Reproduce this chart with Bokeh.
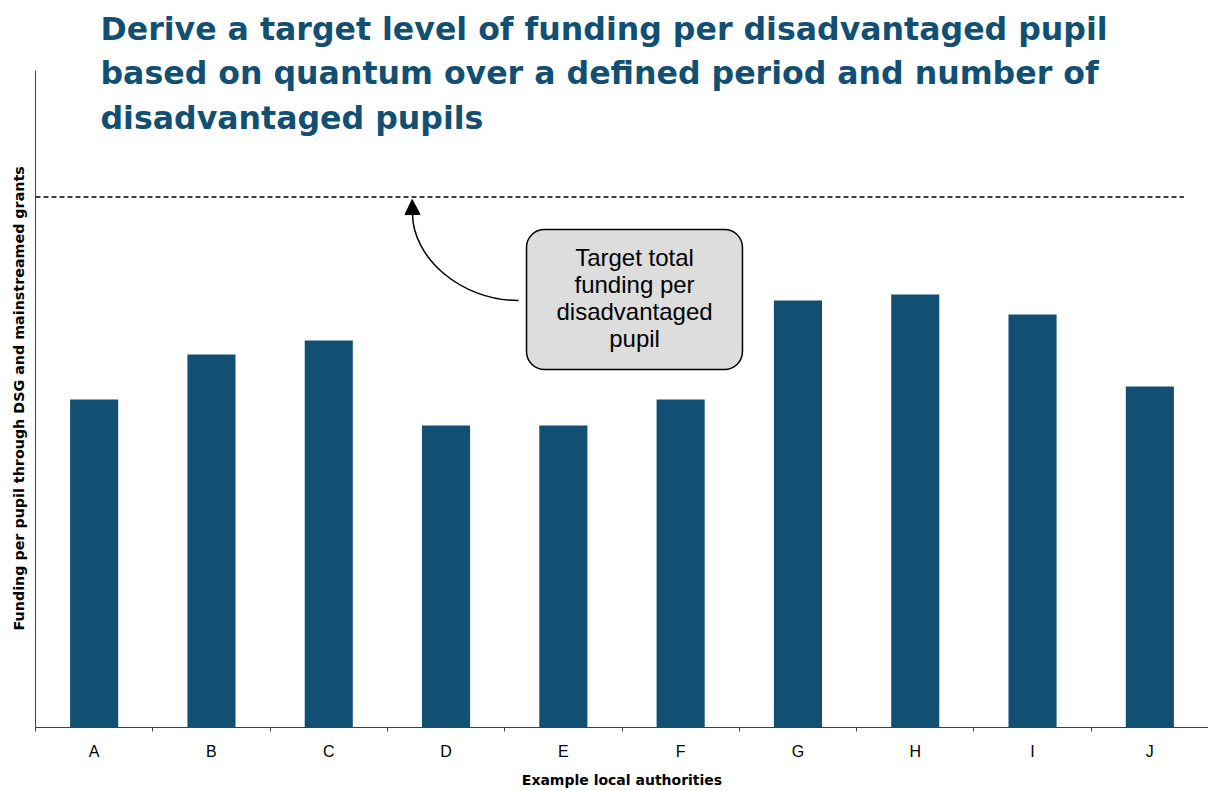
from bokeh.plotting import figure
from bokeh.models import (Range1d, FixedTicker, BoxAnnotation, Arrow, NormalHead, Title)
from bokeh.core.properties import value
from bokeh.embed import file_html
from bokeh.resources import INLINE

# ---- data ----
authorities = ["A", "B", "C", "D", "E", "F", "G", "H", "I", "J"]
funding_per_pupil = [328, 373, 387, 302, 302, 328, 427, 433, 413, 341]
target_funding = 530.5
title_lines = [
    "Derive a target level of funding per disadvantaged pupil",
    "based on quantum over a defined period and number of",
    "disadvantaged pupils",
]
callout_lines = ["Target total", "funding per", "disadvantaged", "pupil"]
x_title = "Example local authorities"
y_title = "Funding per pupil through DSG and mainstreamed grants"

BAR = "#114F73"
AXIS = "#404040"

n = len(authorities)
xs = [i + 0.5 for i in range(n)]

p = figure(width=1208, height=791, output_backend="svg", toolbar_location=None,
           x_range=Range1d(0, n), y_range=Range1d(0, 727),
           min_border_left=35, min_border_right=0, min_border_top=0,
           min_border_bottom=64)
p.outline_line_color = None
p.xgrid.visible = False
p.ygrid.visible = False
p.background_fill_color = "white"
p.border_fill_color = "white"

# bars
p.vbar(x=xs, top=funding_per_pupil, bottom=0, width=0.41,
       fill_color=BAR, line_color=None)

# target dashed line
p.segment(x0=[0], y0=[target_funding], x1=[9.79], y1=[target_funding],
          line_color="black", line_width=1.5, line_dash="5 3")

# x axis
xa = p.xaxis[0]
xa.ticker = FixedTicker(ticks=xs, minor_ticks=list(range(n + 1)))
xa.major_label_overrides = {x: c for x, c in zip(xs, authorities)}
xa.major_tick_out = 0
xa.major_tick_in = 0
xa.minor_tick_out = 4
xa.minor_tick_in = 0
xa.minor_tick_line_color = AXIS
xa.axis_line_color = AXIS
xa.major_label_text_font = "Liberation Sans"
xa.major_label_text_font_size = "16px"
xa.major_label_text_color = "black"
xa.major_label_standoff = 11
xa.axis_label = x_title
xa.axis_label_text_font = "DejaVu Sans"
xa.axis_label_text_font_style = "bold"
xa.axis_label_text_font_size = "14px"
xa.axis_label_text_color = "black"
xa.axis_label_standoff = 9

# y axis (line only up to the top of the value area)
ya = p.yaxis[0]
ya.ticker = FixedTicker(ticks=[])
ya.major_tick_out = 0
ya.major_tick_in = 0
ya.minor_tick_out = 0
ya.minor_tick_in = 0
ya.axis_line_color = AXIS
ya.bounds = (0, 657)

# y axis title, centred on the value area
p.add_layout(Title(text=y_title, align="left", offset=97, standoff=17,
                   text_font="DejaVu Sans", text_font_style="bold",
                   text_font_size="14.3px", text_color="black"), "left")

# title (drawn inside the plot area, as in the original slide)
p.text(x=[0.554] * 3, y=[699, 654.5, 610], text=title_lines,
       text_font=value("DejaVu Sans"), text_font_style="bold",
       text_font_size="31.6px", text_color=BAR, text_baseline="alphabetic",
       text_align="left")

# callout box
box = BoxAnnotation(left=4.186, right=6.027, bottom=358, top=498,
                    fill_color="#dddddd", fill_alpha=1.0,
                    line_color="black", line_width=1.5, line_alpha=1.0,
                    border_radius=18, level="underlay")
p.add_layout(box)
p.text(x=[5.107] * 4, y=[470, 443, 416, 389], text=callout_lines,
       text_font=value("Liberation Sans"), text_font_size="24px",
       text_color="black", text_align="center", text_baseline="alphabetic")

# curved arrow
p.bezier(x0=[4.118], y0=[427], x1=[3.214], y1=[514],
         cx0=[3.623], cy0=[427], cx1=[3.214], cy1=[470],
         line_color="black", line_width=1.5)
p.add_layout(Arrow(end=NormalHead(size=15, fill_color="black", line_color="black"),
                   x_start=3.214, y_start=512, x_end=3.211, y_end=528,
                   line_color="black", line_width=1.5))

open("out.html", "w").write(file_html(p, INLINE))
